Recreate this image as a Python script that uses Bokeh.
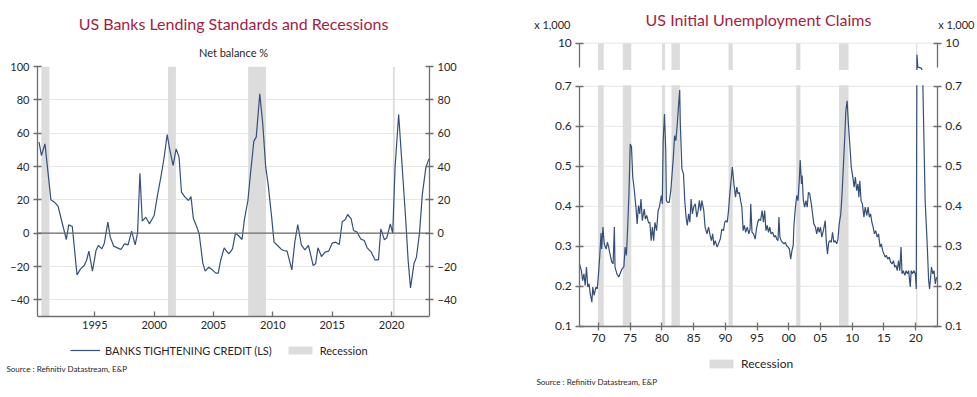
from bokeh.plotting import figure
from bokeh.layouts import row
from bokeh.models import (Range1d, FixedTicker, Span, Title, Legend, LegendItem, Label,
                          BoxAnnotation, CustomJSTickFormatter, LinearAxis)
from bokeh.embed import file_html
from bokeh.resources import INLINE

# ---------------- data: left chart ----------------
lend_dates = [1990.3, 1990.5, 1990.8, 1991.3, 1991.6, 1991.9, 1992.2, 1992.6, 1992.8, 1993.1,
              1993.5, 1993.8, 1994.1, 1994.3, 1994.5, 1994.8, 1995.1, 1995.3, 1995.6, 1995.8,
              1996.1, 1996.3, 1996.6, 1996.9, 1997.2, 1997.5, 1997.8, 1998.1, 1998.4, 1998.6,
              1998.8, 1999.0, 1999.3, 1999.6, 2000.0, 2000.3, 2000.55, 2000.8, 2001.1, 2001.3,
              2001.6, 2001.85, 2002.1, 2002.3, 2002.6, 2002.9, 2003.1, 2003.3, 2003.6, 2003.8,
              2004.1, 2004.3, 2004.6, 2004.9, 2005.2, 2005.4, 2005.6, 2005.9, 2006.1, 2006.3,
              2006.6, 2006.85, 2007.1, 2007.4, 2007.6, 2007.9, 2008.1, 2008.4, 2008.6, 2008.9,
              2009.15, 2009.4, 2009.6, 2009.9, 2010.1, 2010.4, 2010.7, 2010.9, 2011.2, 2011.6,
              2011.85, 2012.1, 2012.4, 2012.7, 2013.0, 2013.4, 2013.6, 2013.8, 2014.1, 2014.4,
              2014.7, 2015.0, 2015.3, 2015.6, 2015.85, 2016.1, 2016.3, 2016.6, 2016.8, 2017.1,
              2017.4, 2017.7, 2017.95, 2018.3, 2018.6, 2018.9, 2019.1, 2019.4, 2019.6, 2019.9,
              2020.1, 2020.3, 2020.6, 2020.9, 2021.2, 2021.4, 2021.6, 2021.9, 2022.1, 2022.35,
              2022.6, 2022.9, 2023.15]
lend_values = [54.6, 46.6, 53.6, 20.0, 18.6, 16.2, 7.6, -3.8, 5.0, 4.0,
               -25.0, -21.4, -19.4, -16.4, -10.8, -22.8, -10.4, -7.4, -9.4, -6.0,
               6.6, -2.4, -7.8, -8.8, -9.8, -6.4, -7.0, 1.2, -7.0, 0.0,
               36.0, 7.2, 9.6, 5.6, 10.6, 23.6, 33.0, 43.6, 59.2, 50.6,
               40.6, 50.6, 45.6, 24.6, 21.6, 19.6, 22.0, 9.0, 3.6, -0.8,
               -18.0, -22.8, -20.4, -22.0, -24.0, -24.0, -16.4, -8.8, -10.8, -12.4,
               -9.4, 0.0, -1.4, -3.8, 8.0, 19.6, 34.6, 55.2, 57.6, 83.6,
               65.6, 39.6, 29.6, 9.6, -5.4, -7.4, -9.6, -10.4, -10.8, -22.0,
               -5.4, 5.2, -7.0, -10.0, -7.4, -19.4, -18.4, -8.8, -14.0, -11.4,
               -10.8, -6.0, -5.4, -6.8, 7.0, 8.0, 11.2, 8.6, 1.6, 0.6,
               -3.4, -4.4, -8.8, -11.4, -16.0, -16.0, 2.6, -4.0, -2.8, 5.6,
               0.0, 39.6, 71.2, 39.6, 7.6, -16.4, -32.8, -18.0, -14.4, -0.4,
               23.6, 39.6, 44.6]
lend_yticks = [-40, -20, 0, 20, 40, 60, 80, 100]
lend_xticks = [1995, 2000, 2005, 2010, 2015, 2020]
lend_rec_start = [1990.5, 2001.17, 2007.92, 2020.12]
lend_rec_end = [1991.17, 2001.83, 2009.42, 2020.27]

# ---------------- data: right chart (x 1,000) ----------------
claims_dates = [1967.0, 1967.3, 1967.5, 1967.7, 1967.9, 1968.1, 1968.3, 1968.5, 1968.7, 1968.95,
                1969.1, 1969.3, 1969.6, 1969.8, 1970.0, 1970.2, 1970.4, 1970.5, 1970.7, 1970.9,
                1971.2, 1971.4, 1971.6, 1971.8, 1972.1, 1972.3, 1972.5, 1972.6, 1972.9, 1973.2,
                1973.4, 1973.7, 1974.0, 1974.2, 1974.4, 1974.6, 1974.8, 1975.0, 1975.2, 1975.4,
                1975.6, 1975.9, 1976.1, 1976.3, 1976.5, 1976.7, 1976.9, 1977.2, 1977.4, 1977.6,
                1977.9, 1978.1, 1978.3, 1978.5, 1978.7, 1978.9, 1979.15, 1979.4, 1979.6, 1979.9,
                1980.05, 1980.2, 1980.4, 1980.6, 1980.7, 1980.9, 1981.15, 1981.4, 1981.6, 1981.8,
                1982.0, 1982.2, 1982.4, 1982.6, 1982.8, 1982.9, 1983.15, 1983.4, 1983.6, 1983.8,
                1984.0, 1984.2, 1984.4, 1984.6, 1984.8, 1985.0, 1985.25, 1985.5, 1985.7, 1985.9,
                1986.1, 1986.3, 1986.6, 1986.8, 1987.1, 1987.35, 1987.6, 1987.8, 1988.0, 1988.2,
                1988.4, 1988.7, 1988.9, 1989.2, 1989.45, 1989.7, 1989.9, 1990.1, 1990.3, 1990.5,
                1990.7, 1990.9, 1991.1, 1991.35, 1991.6, 1991.8, 1992.0, 1992.2, 1992.4, 1992.6,
                1992.8, 1993.0, 1993.2, 1993.45, 1993.7, 1993.9, 1994.0, 1994.2, 1994.45, 1994.7,
                1994.9, 1995.1, 1995.3, 1995.55, 1995.8, 1996.0, 1996.2, 1996.4, 1996.6, 1996.8,
                1997.0, 1997.2, 1997.45, 1997.7, 1997.9, 1998.1, 1998.3, 1998.45, 1998.6, 1998.8,
                1999.0, 1999.25, 1999.45, 1999.65, 1999.9, 2000.1, 2000.3, 2000.5, 2000.7, 2000.8,
                2001.0, 2001.25, 2001.45, 2001.65, 2001.8, 2002.0, 2002.1, 2002.3, 2002.5, 2002.7,
                2002.9, 2003.1, 2003.3, 2003.55, 2003.75, 2003.95, 2004.2, 2004.4, 2004.6, 2004.8,
                2005.0, 2005.2, 2005.45, 2005.65, 2005.75, 2005.9, 2006.1, 2006.3, 2006.5, 2006.7,
                2006.9, 2007.1, 2007.3, 2007.55, 2007.75, 2007.95, 2008.2, 2008.4, 2008.6, 2008.8,
                2009.0, 2009.2, 2009.4, 2009.65, 2009.85, 2010.1, 2010.3, 2010.5, 2010.7, 2010.9,
                2011.05, 2011.2, 2011.4, 2011.6, 2011.85, 2012.05, 2012.3, 2012.5, 2012.7, 2012.9,
                2013.1, 2013.3, 2013.5, 2013.7, 2013.95, 2014.15, 2014.4, 2014.6, 2014.8, 2015.0,
                2015.2, 2015.4, 2015.6, 2015.85, 2016.05, 2016.3, 2016.5, 2016.7, 2016.9, 2017.1,
                2017.3, 2017.5, 2017.7, 2017.85, 2018.05, 2018.3, 2018.5, 2018.7, 2018.9, 2019.15,
                2019.3, 2019.5, 2019.7, 2019.95, 2020.1, 2020.2, 2020.35, 2020.9, 2021.1, 2021.5,
                2021.8, 2022.05, 2022.2, 2022.5, 2022.7, 2022.9, 2023.1, 2023.3]
claims_values = [0.256, 0.239, 0.214, 0.231, 0.202, 0.248, 0.198, 0.206, 0.181, 0.160,
                 0.198, 0.177, 0.198, 0.193, 0.231, 0.277, 0.333, 0.293, 0.348, 0.306,
                 0.293, 0.310, 0.298, 0.281, 0.260, 0.256, 0.348, 0.248, 0.231, 0.223,
                 0.231, 0.243, 0.249, 0.298, 0.277, 0.348, 0.431, 0.556, 0.549, 0.472,
                 0.447, 0.398, 0.356, 0.402, 0.381, 0.418, 0.364, 0.393, 0.368, 0.377,
                 0.358, 0.360, 0.314, 0.348, 0.314, 0.360, 0.339, 0.389, 0.398, 0.427,
                 0.406, 0.564, 0.631, 0.539, 0.414, 0.410, 0.410, 0.439, 0.481, 0.523,
                 0.577, 0.564, 0.602, 0.648, 0.691, 0.606, 0.493, 0.481, 0.414, 0.373,
                 0.352, 0.381, 0.360, 0.418, 0.381, 0.398, 0.406, 0.373, 0.389, 0.414,
                 0.389, 0.414, 0.389, 0.348, 0.331, 0.348, 0.327, 0.314, 0.331, 0.302,
                 0.314, 0.298, 0.306, 0.318, 0.343, 0.339, 0.360, 0.364, 0.360, 0.389,
                 0.431, 0.464, 0.498, 0.456, 0.423, 0.448, 0.431, 0.435, 0.414, 0.398,
                 0.339, 0.352, 0.335, 0.348, 0.331, 0.343, 0.406, 0.335, 0.331, 0.318,
                 0.343, 0.360, 0.368, 0.364, 0.389, 0.360, 0.389, 0.339, 0.352, 0.335,
                 0.348, 0.331, 0.335, 0.323, 0.327, 0.318, 0.314, 0.373, 0.323, 0.314,
                 0.310, 0.306, 0.310, 0.302, 0.298, 0.293, 0.268, 0.289, 0.302, 0.348,
                 0.389, 0.427, 0.414, 0.464, 0.516, 0.456, 0.477, 0.414, 0.398, 0.414,
                 0.398, 0.435, 0.431, 0.406, 0.381, 0.356, 0.348, 0.331, 0.348, 0.335,
                 0.348, 0.323, 0.339, 0.356, 0.364, 0.314, 0.281, 0.310, 0.314, 0.310,
                 0.335, 0.310, 0.314, 0.306, 0.318, 0.356, 0.381, 0.431, 0.498, 0.564,
                 0.639, 0.664, 0.606, 0.548, 0.498, 0.473, 0.448, 0.473, 0.439, 0.456,
                 0.423, 0.464, 0.414, 0.406, 0.373, 0.398, 0.377, 0.398, 0.373, 0.381,
                 0.360, 0.348, 0.331, 0.339, 0.323, 0.331, 0.298, 0.306, 0.289, 0.281,
                 0.273, 0.277, 0.268, 0.273, 0.260, 0.256, 0.264, 0.248, 0.252, 0.239,
                 0.264, 0.239, 0.298, 0.231, 0.239, 0.227, 0.239, 0.231, 0.239, 0.198,
                 0.239, 0.231, 0.239, 0.231, 0.193, 6.10, 1.86, 1.52, 0.95, 0.414,
                 0.314, 0.214, 0.193, 0.248, 0.231, 0.239, 0.206, 0.223]
claims_yticks = [0.1, 0.2, 0.3, 0.4, 0.5, 0.6, 0.7]
claims_top_tick = [10]
claims_xticks = [1970, 1975, 1980, 1985, 1990, 1995, 2000, 2005, 2010, 2015, 2020]
claims_rec_start = [1969.92, 1973.83, 1980.0, 1981.5, 1990.5, 2001.17, 2007.92, 2020.08]
claims_rec_end = [1970.83, 1975.17, 1980.5, 1982.83, 1991.17, 2001.83, 2009.42, 2020.27]

# ---------------- styling ----------------
FONT = "Lato"
NAVY = "#34507a"
TITLE_RED = "#a51c41"
REC_GRAY = "#dcdcdc"
GRID = "#e6e6e6"
AXIS = "#6e6e6e"
TXT = "#262626"

BREAK_LO, BREAK_HI, TOP_DISP = 0.7, 0.742, 0.808


def to_disp(v):
    if v <= 0.7:
        return v
    if v <= 1.0:
        return BREAK_LO + (v - 0.7) / 0.3 * (BREAK_HI - BREAK_LO)
    return BREAK_HI + (v - 1.0) / 9.0 * (TOP_DISP - BREAK_HI)


def style_axis(ax, size="11px"):
    ax.axis_line_color = AXIS
    ax.axis_line_width = 1.3
    ax.major_tick_line_color = AXIS
    ax.major_tick_line_width = 1.3
    ax.minor_tick_line_color = None
    ax.major_label_text_font = FONT
    ax.major_label_text_font_size = size
    ax.major_label_text_color = TXT
    ax.major_label_standoff = 4
    ax.major_tick_in = 4
    ax.major_tick_out = 4


def no_align(p):
    try:
        p.frame_align = False
    except Exception:
        pass


# ================= LEFT FIGURE =================
lx0, lx1 = 1990.17, 2023.2
ly0, ly1 = -50, 100
ly_ext = ly1 - (360 - 66) * (ly1 - ly0) / 250.0   # frame extended below for the legend
p1 = figure(width=488, height=396, output_backend="svg", toolbar_location=None,
            x_range=Range1d(lx0, lx1), y_range=Range1d(ly_ext, ly1),
            min_border_left=37, min_border_right=59, min_border_top=66, min_border_bottom=36)
no_align(p1)
p1.outline_line_color = None
p1.xgrid.visible = False
p1.ygrid.grid_line_color = GRID
p1.ygrid.ticker = FixedTicker(ticks=lend_yticks)

rec1 = p1.quad(left=lend_rec_start, right=lend_rec_end, bottom=ly0, top=ly1,
               fill_color=REC_GRAY, line_color=None)
p1.add_layout(Span(location=0, dimension="width", line_color="#6a6a6a", line_width=1.3))
ln1 = p1.line(lend_dates, lend_values, line_color=NAVY, line_width=1.2)

p1.yaxis.ticker = FixedTicker(ticks=lend_yticks)
p1.xaxis.ticker = FixedTicker(ticks=lend_xticks)
for ax in p1.yaxis:
    style_axis(ax)
    ax.bounds = (ly0, ly1)
yr1 = LinearAxis(ticker=FixedTicker(ticks=lend_yticks), bounds=(ly0, ly1))
style_axis(yr1)
p1.add_layout(yr1, "right")
for ax in p1.xaxis:
    style_axis(ax)
    ax.major_tick_in = 5
    ax.major_tick_out = 0
    ax.fixed_location = ly0

p1.add_layout(Title(text="Net balance %", align="center", text_font=FONT, standoff=16,
                    text_font_size="11px", text_font_style="normal", text_color=TXT), "above")
p1.add_layout(Title(text="US Banks Lending Standards and Recessions", align="center",
                    text_font=FONT, text_font_size="16px", text_font_style="normal",
                    standoff=5, text_color=TITLE_RED), "above")

leg1 = Legend(items=[LegendItem(label="BANKS TIGHTENING CREDIT (LS)", renderers=[ln1]),
                     LegendItem(label="Recession", renderers=[rec1])],
              orientation="horizontal", location=(33, 3), border_line_color=None,
              background_fill_alpha=0, label_text_font=FONT, label_text_font_size="11px",
              label_text_color=TXT, glyph_width=30, glyph_height=10, label_height=14,
              label_standoff=5, spacing=13, padding=2, margin=0)
p1.add_layout(leg1)
p1.add_layout(Title(text="Source : Refinitiv Datastream, E&P", align="left", offset=-31,
                    standoff=2, text_font=FONT, text_font_size="8px",
                    text_font_style="normal", text_color=TXT), "below")

# ================= RIGHT FIGURE =================
# the frame fills the whole figure; axes are pinned at the chart edges
RW, RH = 489, 396
rx0, rx1 = 1967.05, 2023.4
ry_top = to_disp(10)
CH_L, CH_R, CH_T, CH_B = 91.3, 448.7, 42.7, 325.7      # chart box inside this figure (px)
XPP = (rx1 - rx0) / (CH_R - CH_L)
YPP = (ry_top - 0.1) / (CH_B - CH_T)
fx0, fx1 = rx0 - CH_L * XPP, rx1 + (RW - CH_R) * XPP
fy0, fy1 = ry_top - (RH - CH_T) * YPP, ry_top + CH_T * YPP


def xpx(px):
    return fx0 + px * XPP


def ypx(py):
    return fy1 - py * YPP


p2 = figure(width=RW, height=RH, output_backend="svg", toolbar_location=None,
            x_range=Range1d(fx0, fx1), y_range=Range1d(fy0, fy1),
            min_border_left=0, min_border_right=0, min_border_top=0, min_border_bottom=0)
no_align(p2)
p2.outline_line_color = None
p2.xgrid.visible = False
p2.ygrid.visible = False

low_ticks = [to_disp(t) for t in claims_yticks]
top_ticks = [to_disp(t) for t in claims_top_tick]
grid_y = low_ticks + top_ticks
p2.segment(x0=[rx0] * len(grid_y), x1=[rx1] * len(grid_y), y0=grid_y, y1=grid_y,
           line_color=GRID, line_width=1)

rec2 = p2.quad(left=claims_rec_start, right=claims_rec_end, bottom=0.1, top=ry_top,
               fill_color=REC_GRAY, line_color=None)
claims_disp = [to_disp(v) for v in claims_values]
p2.line(claims_dates, claims_disp, line_color=NAVY, line_width=1.2)

p2.add_layout(BoxAnnotation(left=rx0, right=rx1, bottom=BREAK_LO + 0.0025,
                            top=BREAK_HI - 0.001, fill_color="white", fill_alpha=1.0,
                            line_alpha=0, level="overlay"))

fmt_low = CustomJSTickFormatter(code="return tick.toFixed(1);")
fmt_top = CustomJSTickFormatter(code="return '10';")

p2.yaxis.ticker = FixedTicker(ticks=low_ticks)
p2.yaxis.formatter = fmt_low
for ax in p2.yaxis:
    style_axis(ax, "12px")
    ax.bounds = (0.1, BREAK_LO)
    ax.fixed_location = rx0
for side, loc in (("left", rx0), ("right", rx1)):
    if side == "right":
        a = LinearAxis(ticker=FixedTicker(ticks=low_ticks), formatter=fmt_low,
                       bounds=(0.1, BREAK_LO), fixed_location=loc)
        style_axis(a, "12px")
        p2.add_layout(a, side)
    b = LinearAxis(ticker=FixedTicker(ticks=top_ticks), formatter=fmt_top,
                   bounds=(BREAK_HI + 0.006, ry_top), fixed_location=loc)
    style_axis(b, "12px")
    p2.add_layout(b, side)

p2.xaxis.ticker = FixedTicker(ticks=claims_xticks)
p2.xaxis.major_label_overrides = {t: f"{t % 100:02d}" for t in claims_xticks}
for ax in p2.xaxis:
    style_axis(ax, "12px")
    ax.fixed_location = 0.1
    ax.bounds = (rx0, rx1)

p2.add_layout(Label(x=(rx0 + rx1) / 2, y=ypx(19), text="US Initial Unemployment Claims",
                    text_font=FONT, text_font_size="16px", text_color=TITLE_RED,
                    text_align="center", text_baseline="middle"))
p2.add_layout(Label(x=xpx(570 - 488), y=ypx(24), text="x 1,000", text_font=FONT,
                    text_font_size="11px", text_color=TXT, text_align="right",
                    text_baseline="middle"))
p2.add_layout(Label(x=xpx(RW - 3), y=ypx(24), text="x 1,000", text_font=FONT,
                    text_font_size="11px", text_color=TXT, text_align="right",
                    text_baseline="middle"))

leg2 = Legend(items=[LegendItem(label="Recession", renderers=[rec2])],
              orientation="horizontal", location=(708 - 488 - 2, RH - 371),
              border_line_color=None, background_fill_alpha=0, label_text_font=FONT,
              label_text_font_size="12px", label_text_color=TXT, glyph_width=30,
              glyph_height=11, label_height=14, label_standoff=5, padding=2, margin=0)
p2.add_layout(leg2)
p2.add_layout(Label(x=xpx(536 - 488), y=ypx(381), text="Source : Refinitiv Datastream, E&P",
                    text_font=FONT, text_font_size="8px", text_color=TXT,
                    text_align="left", text_baseline="middle"))

layout = row(p1, p2)
open("out.html", "w").write(file_html(layout, INLINE))
